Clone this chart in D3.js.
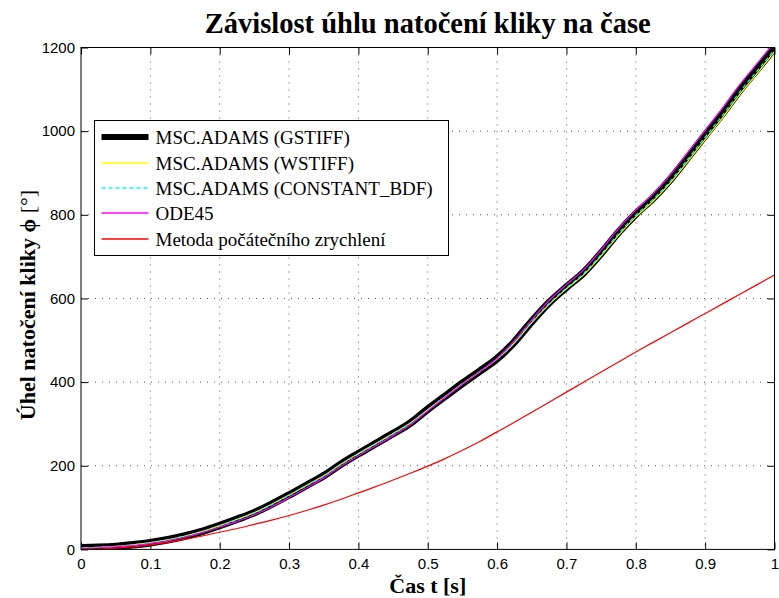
<!DOCTYPE html>
<html lang="cs">
<head>
    <meta charset="UTF-8">
    <title>Závislost úhlu natočení kliky na čase</title>
    <script src="https://d3js.org/d3.v7.min.js"></script>
    <style>
        body { margin: 0; background: #fff; }
        .tick text { font-family: "Liberation Sans", Arial, sans-serif; font-size: 15px; fill: #000; }
    </style>
</head>
<body>
<div id="main"></div>
<script>
// data
var time = [0, 0.025, 0.05, 0.075, 0.1, 0.125, 0.15, 0.175, 0.2, 0.225, 0.25, 0.275, 0.3, 0.325, 0.35, 0.375, 0.4,
    0.425, 0.45, 0.475, 0.5, 0.525, 0.55, 0.575, 0.6, 0.625, 0.65, 0.675, 0.7, 0.725, 0.75, 0.775, 0.8,
    0.825, 0.85, 0.875, 0.9, 0.925, 0.95, 0.975, 1]

var gstiff = [4, 5, 7, 11, 16, 23, 32, 43, 57, 72, 88, 108, 130, 153, 176, 204, 229,
    253, 277, 302, 335, 366, 397, 426, 456, 496, 545, 590, 627, 662, 708, 758, 802,
    840, 885, 937, 990, 1042, 1098, 1148, 1200]
var wstiff = [4, 5, 7, 11, 16, 23, 32, 43, 57, 72, 88, 108, 130, 153, 176, 204, 229,
    253, 277, 302, 334, 365, 396, 425, 455, 494, 542, 586, 623, 657, 702, 751, 795,
    833, 877, 928, 980, 1032, 1088, 1138, 1190]
var constantBdf = [4, 5, 7, 11, 16, 23, 32, 43, 56, 71, 87, 107, 129, 152, 175, 203, 228,
    252, 276, 301, 334, 365, 396, 425, 455, 495, 544, 588, 625, 660, 705, 755, 799,
    837, 881, 933, 986, 1038, 1094, 1144, 1195]
var ode45 = [3, 4, 6, 9, 14, 20, 29, 40, 53, 67, 83, 102, 124, 147, 171, 199, 224,
    248, 272, 298, 331, 363, 395, 425, 457, 499, 549, 595, 633, 669, 716, 767, 811,
    850, 896, 949, 1002, 1055, 1111, 1162, 1212]
var metoda = [0, 1, 3, 6, 11, 17, 24, 32, 41, 50, 60, 70, 81, 93, 106, 120, 135,
    150, 166, 182, 199, 217, 237, 258, 281, 304, 328, 352, 376, 400, 424, 448, 472,
    495, 518, 541, 564, 587, 610, 633, 656]

var xTicks = [0, 0.1, 0.2, 0.3, 0.4, 0.5, 0.6, 0.7, 0.8, 0.9, 1]
var xTickLabels = ['0', '0.1', '0.2', '0.3', '0.4', '0.5', '0.6', '0.7', '0.8', '0.9', '1']
var yTicks = [0, 200, 400, 600, 800, 1000, 1200]
var yTickLabels = ['0', '200', '400', '600', '800', '1000', '1200']

var seriesNames = ['MSC.ADAMS (GSTIFF)', 'MSC.ADAMS (WSTIFF)', 'MSC.ADAMS (CONSTANT_BDF)', 'ODE45', 'Metoda počátečního zrychlení']

// layout
var width = 779
var height = 598
var margin = {left: 81, top: 47.5, right: 4.5, bottom: 48.6}
var w = width - margin.left - margin.right
var h = height - margin.top - margin.bottom
var serif = '"Liberation Serif", "Times New Roman", serif'

var svg = d3.select('#main').append('svg')
    .attr('width', width)
    .attr('height', height)
    .style('display', 'block')
    .style('background', '#fff')

var g = svg.append('g')
    .attr('transform', `translate(${margin.left},${margin.top})`)

var xScale = d3.scaleLinear().domain([0, 1]).range([0, w])
var yScale = d3.scaleLinear().domain([0, 1200]).range([h, 0])

// grid
g.append('g').selectAll('line').data(xTicks.slice(1, -1)).enter().append('line')
    .attr('x1', d => xScale(d)).attr('x2', d => xScale(d))
    .attr('y1', 0).attr('y2', h)
    .attr('stroke', '#555').attr('stroke-width', 1).attr('stroke-dasharray', '1,6')
g.append('g').selectAll('line').data(yTicks.slice(1, -1)).enter().append('line')
    .attr('x1', 0).attr('x2', w)
    .attr('y1', d => yScale(d)).attr('y2', d => yScale(d))
    .attr('stroke', '#555').attr('stroke-width', 1).attr('stroke-dasharray', '1,6')

// axes, ticks pointing inside
var xAxis = d3.axisBottom(xScale).tickValues(xTicks).tickFormat((d, i) => xTickLabels[i])
    .tickSizeInner(-7).tickSizeOuter(0).tickPadding(9)
var yAxis = d3.axisLeft(yScale).tickValues(yTicks).tickFormat((d, i) => yTickLabels[i])
    .tickSizeInner(-7).tickSizeOuter(0).tickPadding(6)
g.append('g').attr('transform', `translate(0,${h})`).call(xAxis)
g.append('g').call(yAxis)
g.append('g').call(d3.axisTop(xScale).tickValues(xTicks).tickFormat('').tickSizeInner(-7).tickSizeOuter(0))
g.append('g').attr('transform', `translate(${w},0)`)
    .call(d3.axisRight(yScale).tickValues(yTicks).tickFormat('').tickSizeInner(-7).tickSizeOuter(0))
g.selectAll('.domain').remove()
g.selectAll('.tick line').attr('stroke', '#000')

// clip
svg.append('clipPath').attr('id', 'clip').append('rect')
    .attr('width', w).attr('height', h)

var line = d3.line()
    .x((d, i) => xScale(time[i]))
    .y(d => yScale(d))
    .curve(d3.curveMonotoneX)

var styles = [
    {data: gstiff, color: '#000000', width: 7.5, legendWidth: 6, dash: null},
    {data: wstiff, color: '#ffff00', width: 1.2, legendWidth: 1.5, dash: null},
    {data: constantBdf, color: '#00ffff', width: 1.2, legendWidth: 1.5, dash: '4,3'},
    {data: ode45, color: '#ff00ff', width: 1.2, legendWidth: 1.5, dash: null},
    {data: metoda, color: '#ff0000', width: 1.2, legendWidth: 1.6, dash: null}
]

var plot = g.append('g').attr('clip-path', 'url(#clip)')
styles.forEach(s => {
    plot.append('path')
        .attr('d', line(s.data))
        .attr('fill', 'none')
        .attr('stroke', s.color)
        .attr('stroke-width', s.width)
        .attr('stroke-dasharray', s.dash)
        .attr('stroke-linejoin', 'round')
})

// frame
g.append('rect').attr('width', w).attr('height', h)
    .attr('fill', 'none').attr('stroke', '#000').attr('stroke-width', 1)

// legend
var legend = svg.append('g').attr('transform', 'translate(94.5,120.5)')
legend.append('rect').attr('width', 354).attr('height', 135)
    .attr('fill', '#fff').attr('stroke', '#000').attr('stroke-width', 1)
var legendRows = [16.5, 42.5, 67.5, 92.5, 118.5]
styles.forEach((s, i) => {
    var y = legendRows[i]
    legend.append('line')
        .attr('x1', 7).attr('x2', 54).attr('y1', y).attr('y2', y)
        .style('stroke', s.color).style('stroke-width', s.legendWidth)
        .attr('stroke-dasharray', s.dash)
    legend.append('text')
        .attr('x', 61).attr('y', y).attr('dy', '0.35em')
        .style('font-family', serif).style('font-size', '19px')
        .text(seriesNames[i])
})

// titles
svg.append('text')
    .attr('x', margin.left + w / 2).attr('y', 33)
    .attr('text-anchor', 'middle')
    .style('font-family', serif).style('font-weight', 'bold').style('font-size', '28.5px')
    .text('Závislost úhlu natočení kliky na čase')

svg.append('text')
    .attr('x', margin.left + w / 2).attr('y', 593)
    .attr('text-anchor', 'middle')
    .style('font-family', serif).style('font-weight', 'bold').style('font-size', '22px')
    .text('Čas t [s]')

var yl = svg.append('text')
    .attr('transform', 'translate(35,305) rotate(-90)')
    .attr('text-anchor', 'middle')
    .style('font-family', serif).style('font-weight', 'bold').style('font-size', '22px')
yl.append('tspan').text('Úhel natočení kliky  ')
yl.append('tspan').text('\u03D5 ')
yl.append('tspan').style('font-weight', 'normal').text('[°]')
</script>
</body>
</html>
